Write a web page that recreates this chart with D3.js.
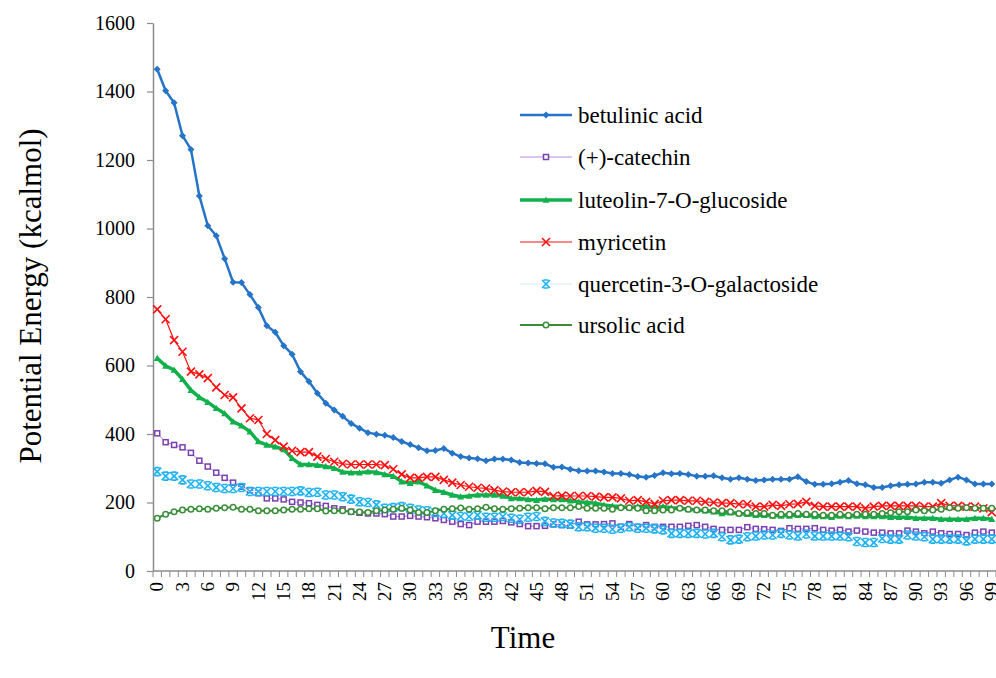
<!DOCTYPE html>
<html>
<head>
<meta charset="utf-8">
<script src="https://cdn.jsdelivr.net/npm/d3@7/dist/d3.min.js"></script>
<style>
  html, body { margin: 0; padding: 0; background: #fff; }
  svg { display: block; }
  text { font-family: "Liberation Serif", "Times New Roman", serif; fill: #000; }
</style>
</head>
<body>
<svg id="chart" width="996" height="678"></svg>
<script>
// Time steps 0..99
const timeSteps = d3.range(100);
const yTicks = [0, 200, 400, 600, 800, 1000, 1200, 1400, 1600];

const betulinicAcid = [
  1465,1402,1367,1271,1231,1095,1008,979,912,843,
  842,807,769,716,697,658,633,582,553,519,
  490,470,452,431,417,404,399,396,390,378,
  369,360,351,352,358,344,334,330,328,322,
  327,327,324,317,315,314,313,303,304,297,
  293,292,292,289,285,285,282,276,274,279,
  287,284,285,282,277,277,278,272,268,272,
  268,264,266,268,268,268,275,261,253,253,
  255,259,264,255,252,244,244,249,252,253,
  254,259,259,256,266,274,266,254,254,254
];
const catechin = [
  402,376,368,361,345,322,305,287,272,258,
  246,236,227,212,212,209,202,200,198,193,
  190,183,180,173,170,168,168,166,159,159,
  161,159,157,154,149,144,137,134,144,144,
  144,146,142,137,131,131,132,136,134,132,
  144,136,136,137,139,129,137,129,134,129,
  129,129,129,132,134,129,123,120,120,120,
  128,123,122,120,117,125,123,123,125,120,
  118,120,115,118,115,112,112,110,110,118,
  115,110,115,110,108,108,105,112,115,112
];
const luteolinGlucoside = [
  621,599,587,560,528,507,493,475,460,436,
  424,407,378,368,363,355,329,311,311,309,
  305,300,289,287,287,290,288,282,277,261,
  256,261,249,236,230,222,217,219,222,222,
  222,219,212,212,209,207,210,209,209,205,
  202,200,198,193,190,188,185,188,188,185,
  188,185,183,180,178,176,173,168,170,168,
  166,163,163,161,161,161,163,163,159,159,
  157,161,159,161,159,159,159,157,157,157,
  154,154,154,151,151,151,151,154,154,151
];
const myricetin = [
  764,735,674,640,582,574,563,536,514,507,
  475,446,441,400,382,363,351,347,347,334,
  327,319,313,311,311,311,311,309,297,282,
  272,272,275,275,266,258,251,246,243,241,
  236,232,230,230,230,234,231,219,220,219,
  219,219,217,215,215,212,205,207,202,196,
  205,207,207,205,205,202,200,198,198,195,
  195,188,188,193,190,195,196,202,190,188,
  188,188,188,188,183,188,190,190,190,190,
  190,188,188,198,190,190,188,188,183,172
];
const quercetinGalactoside = [
  290,277,277,266,254,254,249,244,241,241,
  244,232,232,232,232,232,232,234,229,230,
  222,222,217,210,202,200,193,183,185,188,
  183,178,176,171,168,163,159,159,163,157,
  157,159,154,151,157,159,145,140,139,137,
  129,129,125,125,122,125,129,125,125,123,
  120,110,110,110,110,108,110,100,91,93,
  100,102,105,105,110,105,102,108,102,102,
  102,102,100,86,83,83,95,93,93,105,
  102,100,93,93,93,93,88,93,93,93
];
const ursolicAcid = [
  154,166,173,178,180,182,180,183,185,186,
  180,180,176,176,176,178,180,180,182,182,
  175,176,176,173,172,171,176,178,180,183,
  178,171,171,176,180,182,184,180,182,186,
  182,180,182,183,185,185,182,185,185,185,
  188,183,183,183,180,185,185,183,176,176,
  178,178,183,180,178,178,176,176,173,168,
  170,168,168,163,166,166,168,166,166,163,
  163,166,163,166,166,166,168,170,173,173,
  178,176,178,180,185,183,185,183,183,183
];

const seriesNames = ["betulinic acid", "(+)-catechin", "luteolin-7-O-glucoside",
                     "myricetin", "quercetin-3-O-galactoside", "ursolic acid"];
const seriesValues = [betulinicAcid, catechin, luteolinGlucoside,
                      myricetin, quercetinGalactoside, ursolicAcid];

// line + marker styling per series
const styles = [
  { line: "#2574C8", width: 2.5, marker: "diamond",  mColor: "#2574C8", size: 7 },
  { line: "#B58BD9", width: 1,   marker: "square",   mColor: "#7A3FB0", size: 6.5 },
  { line: "#12B04C", width: 3.5, marker: "triangle", mColor: "#12B04C", size: 7 },
  { line: "#FF1010", width: 1.2, marker: "cross",    mColor: "#FF1010", size: 8 },
  { line: "#E3F2FB", width: 1.5, marker: "star",     mColor: "#1EB2F0", size: 8 },
  { line: "#3A8E3A", width: 2,   marker: "circle",   mColor: "#3A8E3A", size: 6.5 }
];

const serif = "'Liberation Serif', 'Times New Roman', serif";
const svg = d3.select("#chart");
const plotLeft = 153, plotRight = 996, plotTop = 23, plotBottom = 571;

const x = d3.scaleBand().domain(timeSteps).range([plotLeft, plotRight]).paddingInner(0).paddingOuter(0);
const y = d3.scaleLinear().domain([0, 1600]).range([plotBottom, plotTop]);
const cx = d => x(d) + x.bandwidth() / 2;

const axisColor = "#8C8C8C";

// y axis
const yAxis = svg.append("g")
  .attr("transform", `translate(${plotLeft},0)`)
  .call(d3.axisLeft(y).tickValues(yTicks).tickFormat(d3.format("d"))
    .tickSize(6).tickSizeOuter(0).tickPadding(12));
yAxis.attr("font-family", serif).attr("font-size", 20);
yAxis.select(".domain").attr("stroke", axisColor).attr("stroke-width", 1.5);
yAxis.selectAll(".tick line").attr("stroke", axisColor).attr("stroke-width", 1.2);

// x axis: labels every third step, tick marks at every category boundary
const xAxis = svg.append("g")
  .attr("transform", `translate(0,${plotBottom})`)
  .call(d3.axisBottom(x).tickValues(timeSteps.filter(d => d % 3 === 0)).tickSize(0).tickSizeOuter(0));
xAxis.attr("font-family", serif).attr("font-size", 19);
xAxis.select(".domain").remove();
xAxis.selectAll(".tick text")
  .attr("text-anchor", "end")
  .attr("transform", "rotate(-90)")
  .attr("x", -11).attr("y", 0).attr("dy", "0.33em");

svg.append("line")
  .attr("x1", plotLeft).attr("x2", plotRight).attr("y1", plotBottom).attr("y2", plotBottom)
  .attr("stroke", axisColor).attr("stroke-width", 1.5);
svg.append("g").selectAll("line")
  .data(timeSteps.concat([timeSteps.length]))
  .join("line")
  .attr("x1", d => d < timeSteps.length ? x(d) : plotRight)
  .attr("x2", d => d < timeSteps.length ? x(d) : plotRight)
  .attr("y1", plotBottom).attr("y2", plotBottom + 6)
  .attr("stroke", axisColor).attr("stroke-width", 1);

// axis titles
svg.append("text")
  .attr("transform", `translate(30,296) rotate(-90)`)
  .attr("text-anchor", "middle").attr("dy", "0.35em")
  .style("font-size", "31px")
  .text("Potential Energy (kcalmol)");
svg.append("text")
  .attr("x", 523).attr("y", 648)
  .attr("text-anchor", "middle")
  .style("font-size", "31px")
  .text("Time");

// marker drawing
function drawMarker(g, type, color, s) {
  const h = s / 2;
  if (type === "diamond") {
    g.append("path").attr("d", `M0,${-h}L${h},0L0,${h}L${-h},0Z`).attr("fill", color);
  } else if (type === "square") {
    g.append("rect").attr("x", -h + 0.75).attr("y", -h + 0.75).attr("width", s - 1.5).attr("height", s - 1.5)
      .attr("fill", "#fff").attr("stroke", color).attr("stroke-width", 1.5);
  } else if (type === "triangle") {
    g.append("path").attr("d", `M0,${-h}L${h},${h * 0.8}L${-h},${h * 0.8}Z`).attr("fill", color);
  } else if (type === "cross") {
    g.append("path").attr("d", `M${-h},${-h}L${h},${h}M${-h},${h}L${h},${-h}`)
      .attr("stroke", color).attr("stroke-width", 1.6).attr("fill", "none");
  } else if (type === "star") {
    g.append("path").attr("d", `M${-h},${-h}L${h},${h}M${-h},${h}L${h},${-h}M${-h * 0.6},${-h}L${h * 0.6},${-h}M${-h * 0.6},${h}L${h * 0.6},${h}`)
      .attr("stroke", color).attr("stroke-width", 1.6).attr("fill", "none");
  } else if (type === "circle") {
    g.append("circle").attr("r", h - 0.5).attr("fill", "#fff")
      .attr("stroke", color).attr("stroke-width", 1.5);
  }
}

const line = d3.line().x((v, i) => cx(timeSteps[i])).y(v => y(v));

seriesValues.forEach((vals, k) => {
  const st = styles[k];
  const g = svg.append("g").attr("class", "series");
  g.append("path").datum(vals)
    .attr("d", line)
    .attr("fill", "none")
    .attr("stroke", st.line)
    .attr("stroke-width", st.width)
    .attr("stroke-linejoin", "round");
  vals.forEach((v, i) => {
    const mg = g.append("g").attr("transform", `translate(${cx(timeSteps[i])},${y(v)})`);
    drawMarker(mg, st.marker, st.mColor, st.size);
  });
});

// legend
const legend = svg.append("g");
const legendY = [115, 157, 200, 242, 284, 325];
seriesNames.forEach((name, k) => {
  const st = styles[k];
  const row = legend.append("g").attr("transform", `translate(0,${legendY[k]})`);
  row.append("line").attr("x1", 520).attr("x2", 572).attr("y1", 0).attr("y2", 0)
    .attr("stroke", st.line).attr("stroke-width", st.width);
  drawMarker(row.append("g").attr("transform", "translate(546,0)"), st.marker, st.mColor, st.size);
  row.append("text").attr("x", 578).attr("y", 0).attr("dy", "0.33em")
    .style("font-size", "23px").text(name);
});
</script>
</body>
</html>
